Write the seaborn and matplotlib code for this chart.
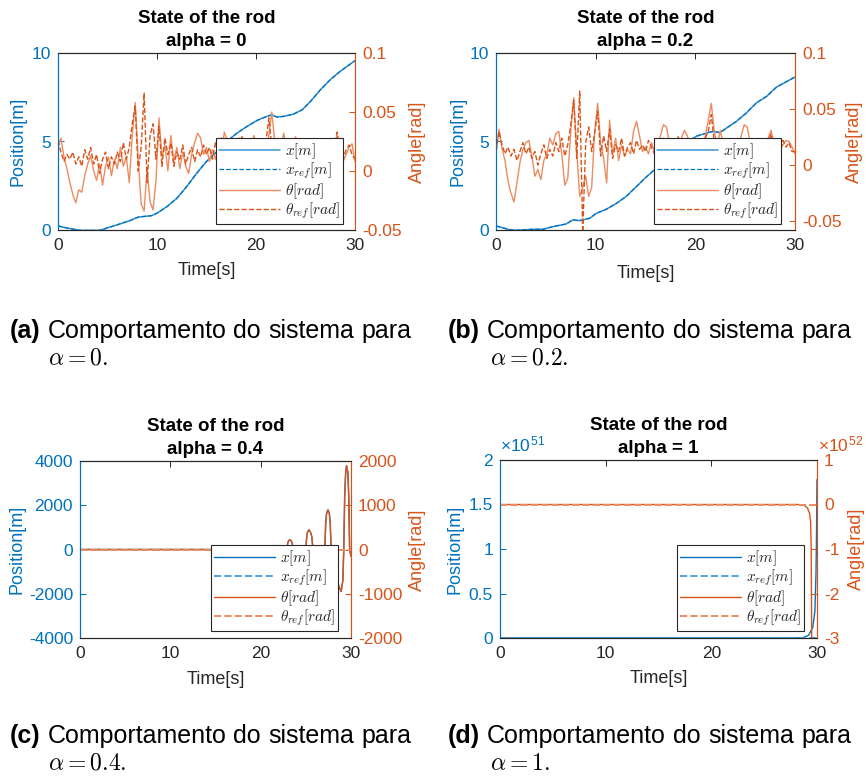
import numpy as np
import matplotlib
matplotlib.use("Agg")
import matplotlib.pyplot as plt
import seaborn as sns
from matplotlib.ticker import FuncFormatter

# ---------------- data ----------------
t_samples = np.linspace(0, 30, 101)   # sample instants of the noisy angle traces

# (a) alpha = 0
t_x_a = [0, 0.84, 2.2, 4.2, 5.9, 7.26, 8.1, 9.46, 9.97, 11.0, 12.0, 13.0, 14.0, 15.0,
         16.05, 17.06, 18.07, 19.09, 20.1, 21.1, 21.6, 22.1, 22.8, 23.8, 24.66, 25.5,
         26.5, 27.5, 28.5, 30.0]
x_a = [0.23, 0.12, -0.02, -0.02, 0.28, 0.53, 0.73, 0.81, 0.94, 1.32, 1.79, 2.45, 3.2,
       3.87, 4.43, 5.0, 5.47, 5.85, 6.19, 6.42, 6.51, 6.38, 6.42, 6.55, 6.79, 7.26, 7.92,
       8.49, 8.96, 9.57]
theta_a = [0.020, 0.028, 0.012, 0.002, -0.010, -0.020, -0.027, -0.016, -0.018, -0.004,
           0.006, 0.013, 0.000, -0.008, 0.006, -0.012, 0.004, 0.012, -0.004, 0.010,
           0.002, 0.020, 0.004, 0.012, -0.010, 0.030, 0.058, 0.010, -0.028, -0.034,
           0.002, -0.026, -0.033, -0.008, 0.045, 0.012, 0.022, 0.000, 0.030, 0.008,
           0.020, 0.002, 0.016, 0.004, -0.002, 0.014, 0.024, 0.032, 0.028, 0.014,
           0.020, 0.008, 0.018, 0.010, 0.022, 0.014, 0.033, 0.026, 0.016, 0.022,
           0.012, 0.028, 0.018, 0.026, 0.014, 0.022, 0.030, 0.016, 0.020, 0.012,
           0.022, 0.030, 0.050, 0.024, 0.014, 0.020, 0.032, 0.018, 0.012, 0.022,
           0.029, 0.016, 0.010, 0.020, 0.014, 0.024, 0.012, 0.018, 0.026, 0.014,
           0.020, 0.010, 0.018, 0.024, 0.030, 0.016, 0.008, 0.014, 0.020, 0.023,
           0.008]
theta_ref_a = [0.026, 0.016, 0.008, 0.014, 0.010, 0.016, 0.006, 0.012, 0.004, 0.018,
               0.010, 0.020, 0.006, 0.014, -0.002, 0.010, 0.016, 0.002, 0.012, 0.006,
               0.016, 0.008, 0.024, 0.010, 0.020, 0.040, 0.055, 0.000, 0.020, 0.066,
               -0.010, 0.030, 0.040, 0.010, 0.038, 0.004, 0.028, 0.014, 0.024, 0.004,
               0.016, 0.010, 0.022, 0.006, 0.014, 0.020, 0.008, 0.018, 0.012, 0.022,
               0.014, 0.020, 0.010, 0.024, 0.016, 0.028, 0.012, 0.020, 0.026, 0.010,
               0.024, 0.016, 0.029, 0.012, 0.020, 0.026, 0.014, 0.022, 0.010, 0.018,
               0.024, 0.045, 0.020, 0.012, 0.022, 0.016, 0.026, 0.010, 0.020, 0.014,
               0.024, 0.018, 0.012, 0.022, 0.016, 0.026, 0.010, 0.020, 0.014, 0.024,
               0.016, 0.020, 0.012, 0.022, 0.033, 0.014, 0.010, 0.018, 0.022, 0.014,
               0.010]

# (b) alpha = 0.2
t_x_b = [0, 1.34, 2.0, 3.7, 4.7, 5.7, 7.04, 7.7, 8.4, 9.39, 10.06, 11.06, 12.07, 13.07,
         14.08, 15.09, 16.09, 17.1, 18.1, 19.1, 20.1, 21.1, 21.8, 22.46, 23.1, 24.1, 25.1,
         26.1, 27.15, 28.16, 30.0]
x_b = [0.23, 0.02, -0.02, 0.04, 0.04, 0.19, 0.34, 0.57, 0.53, 0.66, 0.94, 1.17, 1.5, 1.9,
       2.45, 3.0, 3.5, 4.06, 4.5, 4.9, 5.3, 5.47, 5.57, 5.5, 5.75, 6.13, 6.6, 7.17, 7.55,
       8.08, 8.64]
theta_b = [0.010, 0.032, 0.015, 0.004, -0.014, -0.025, -0.033, -0.016, 0.002, 0.014,
           0.020, 0.022, 0.008, -0.010, -0.004, -0.013, 0.004, 0.010, 0.024, 0.018,
           0.028, 0.030, 0.010, -0.018, -0.012, 0.030, 0.060, 0.012, -0.028, -0.020,
           -0.010, -0.028, -0.020, 0.030, 0.055, 0.020, 0.006, -0.016, 0.040, 0.010,
           0.024, 0.004, 0.018, 0.008, 0.014, 0.010, 0.030, 0.039, 0.026, 0.012,
           0.016, 0.010, 0.020, 0.012, 0.018, 0.026, 0.036, 0.034, 0.020, 0.014,
           0.020, 0.010, 0.024, 0.031, 0.026, 0.014, 0.020, 0.012, 0.018, 0.014,
           0.026, 0.040, 0.055, 0.030, 0.016, 0.031, 0.018, 0.012, 0.020, 0.014,
           0.022, 0.016, 0.026, 0.036, 0.034, 0.020, 0.012, 0.018, 0.010, 0.020,
           0.014, 0.024, 0.031, 0.018, 0.010, 0.014, 0.018, 0.022, 0.021, 0.016,
           0.010]
theta_ref_b = [0.012, 0.030, 0.018, 0.010, 0.016, 0.008, 0.014, 0.004, 0.012, 0.020,
               0.010, 0.016, 0.006, 0.012, 0.000, 0.010, 0.018, 0.006, 0.014, 0.008,
               0.020, 0.012, 0.024, 0.008, 0.018, 0.036, 0.058, 0.006, 0.066, -0.060,
               0.020, 0.034, 0.012, 0.028, 0.048, 0.008, 0.026, 0.012, 0.032, 0.006,
               0.018, 0.012, 0.024, 0.008, 0.016, 0.020, 0.010, 0.022, 0.014, 0.018,
               0.012, 0.022, 0.016, 0.010, 0.020, 0.014, 0.024, 0.018, 0.012, 0.022,
               0.016, 0.026, 0.014, 0.020, 0.012, 0.022, 0.018, 0.010, 0.020, 0.016,
               0.024, 0.030, 0.045, 0.020, 0.014, -0.050, 0.020, 0.012, 0.022, 0.016,
               0.020, 0.012, 0.024, 0.018, 0.014, 0.022, 0.010, 0.020, 0.016, 0.024,
               0.014, 0.020, 0.028, 0.012, 0.018, 0.014, 0.022, 0.016, 0.020, 0.012,
               0.012]

# (c) alpha = 0.4
t_c = [0, 20.8, 21.0, 21.2, 21.4, 21.6, 21.8, 22.2, 22.6, 22.9,
       23.0, 23.1, 23.25, 23.4, 23.5, 23.6, 24.0, 24.5, 24.85, 25.0,
       25.1, 25.2, 25.35, 25.5, 25.65, 25.8, 26.2, 26.6, 26.95, 27.1,
       27.2, 27.3, 27.45, 27.6, 27.7, 27.8, 28.2, 28.6, 28.9, 29.1,
       29.2, 29.3, 29.4, 29.5, 29.65, 29.75, 29.85, 30.0]
theta_c = [0, 0, 0, 70, 90, 60, 0, -100, -120, 0,
           150, 200, 218, 190, 130, 0, -200, -260, -180, 0,
           300, 400, 444, 400, 300, 0, -380, -500, -350, 0,
           600, 820, 895, 820, 600, 0, -500, -800, -950, -700,
           0, 1200, 1700, 1895, 1750, 1200, 0, -150]
x_c = [0, 0, 0, 140, 180, 120, 0, -200, -240, 0,
       300, 400, 436, 380, 260, 0, -400, -520, -360, 0,
       600, 800, 888, 800, 600, 0, -760, -1000, -700, 0,
       1200, 1640, 1790, 1640, 1200, 0, -1000, -1600, -1900, -1400,
       0, 2400, 3400, 3790, 3500, 2400, 0, -300]
t_ref_c = [0, 30]
x_ref_c = [0, 0]
theta_ref_c = [0, 0]

# (d) alpha = 1   (x in units of 1e51 m, theta in units of 1e52 rad)
t_x_d = [0, 28.0, 28.7, 29.2, 29.6, 29.8, 29.9, 29.95, 30.0]
x_d = [0, 0, 0.005, 0.03, 0.12, 0.3, 0.7, 1.1, 1.78]
t_theta_d = [0, 28.2, 28.8, 29.1, 29.3, 29.4, 29.45, 29.5, 29.55]
theta_d = [0, 0, -0.02, -0.08, -0.2, -0.4, -1.0, -3.0, -3.5]
t_ref_d = [0, 30]
x_ref_d = [0, 0]
theta_ref_d = [0, 0]

titles = ["State of the rod\nalpha = 0", "State of the rod\nalpha = 0.2",
          "State of the rod\nalpha = 0.4", "State of the rod\nalpha = 1"]
legend_labels = [r"$x[m]$", r"$x_{ref}[m]$", r"$\theta[rad]$", r"$\theta_{ref}[rad]$"]
caption_words = ["Comportamento", "do", "sistema", "para"]
caption_alpha = [r"$\alpha = 0.$", r"$\alpha = 0.2.$", r"$\alpha = 0.4.$", r"$\alpha = 1.$"]

# ---------------- style ----------------
sns.set_theme(style="white")
plt.rcParams["font.family"] = ["Liberation Sans", "DejaVu Sans"]
plt.rcParams["mathtext.fontset"] = "cm"
plt.rcParams["axes.unicode_minus"] = False

BLUE = "#0072BD"
BLUE_L = "#4FA3DC"
ORANGE = "#D95319"
ORANGE_L = "#EC8C62"
DARK = "#262626"
W, H = 866, 778
TICK_FS = 12.5
LAB_FS = 13

fig = plt.figure(figsize=(W / 100, H / 100), dpi=100)
fmt = FuncFormatter(lambda v, p: f"{v:g}")


def draw_panel(box, title, left_series, right_series, ylim_l, yt_l, ylim_r, yt_r,
               leg_xy, lab_xl, lab_xr, lab_y):
    l, t, r, b = box
    ax = fig.add_axes([l / W, 1 - b / H, (r - l) / W, (b - t) / H])
    ax2 = ax.twinx()
    handles = []
    for tx, vy, col, ls, lw in left_series:
        sns.lineplot(x=tx, y=vy, ax=ax, color=col, linestyle=ls, linewidth=lw,
                     estimator=None, sort=False)
        handles.append(ax.get_lines()[-1])
    for tx, vy, col, ls, lw in right_series:
        sns.lineplot(x=tx, y=vy, ax=ax2, color=col, linestyle=ls, linewidth=lw,
                     estimator=None, sort=False)
        handles.append(ax2.get_lines()[-1])
    ax.set_xlim(0, 30)
    ax.set_ylim(*ylim_l)
    ax2.set_ylim(*ylim_r)
    ax.set_xticks([0, 10, 20, 30])
    ax.set_yticks(yt_l)
    ax2.set_yticks(yt_r)
    for a in (ax.xaxis, ax.yaxis, ax2.yaxis):
        a.set_major_formatter(fmt)
    ax.tick_params(axis="x", direction="in", length=4, width=0.7, top=True,
                   labelsize=TICK_FS, colors=DARK, pad=6)
    ax.tick_params(axis="y", direction="in", length=4, width=0.7, right=False,
                   labelsize=TICK_FS, colors=BLUE, pad=5)
    ax2.tick_params(axis="y", direction="in", length=4, width=0.7, left=False,
                    labelsize=TICK_FS, colors=ORANGE, pad=5)
    for a in (ax, ax2):
        for s in ("top", "bottom"):
            a.spines[s].set_color(DARK)
            a.spines[s].set_linewidth(0.8)
        a.spines["left"].set_color(BLUE)
        a.spines["right"].set_color(ORANGE)
        a.spines["left"].set_linewidth(0.8)
        a.spines["right"].set_linewidth(0.8)
    ax.set_title(title, fontsize=13.5, fontweight="bold", pad=5, linespacing=1.45,
                 color="black")
    ax.set_xlabel("Time[s]", fontsize=LAB_FS, color=DARK)
    ax.set_ylabel("Position[m]", fontsize=LAB_FS, color=BLUE)
    ax2.set_ylabel("Angle[rad]", fontsize=LAB_FS, color=ORANGE)
    ax.xaxis.set_label_coords(0.5, lab_y)
    ax.yaxis.set_label_coords(lab_xl, 0.5)
    ax2.yaxis.set_label_coords(lab_xr, 0.5)
    for lab in (ax.xaxis.label, ax.yaxis.label, ax2.yaxis.label):
        lab.set_rotation_mode("default")
        lab.set_verticalalignment("center")
        lab.set_horizontalalignment("center")
    leg = ax2.legend(handles, legend_labels, loc="upper left",
                     bbox_to_anchor=(leg_xy[0] / W, 1 - leg_xy[1] / H),
                     bbox_transform=fig.transFigure, borderaxespad=0, frameon=True,
                     fancybox=False, framealpha=1, edgecolor=DARK, fontsize=11,
                     handlelength=4.0, handletextpad=0.3, labelspacing=0.0,
                     borderpad=0.2)
    leg.get_frame().set_linewidth(0.8)
    return ax, ax2


# (a)
draw_panel((58, 53, 355, 230), titles[0],
           [(t_x_a, x_a, "#3A93D5", "-", 1.1), (t_x_a, x_a, BLUE, "--", 0.9)],
           [(t_samples, theta_a, ORANGE_L, "-", 1.0), (t_samples, theta_ref_a, ORANGE, "--", 1.0)],
           (0, 10), [0, 5, 10], (-0.05, 0.1), [-0.05, 0, 0.05, 0.1],
           (216, 138), -0.135, 1.212, -0.226)
# (b)
draw_panel((496, 53, 795, 230), titles[1],
           [(t_x_b, x_b, "#3A93D5", "-", 1.1), (t_x_b, x_b, BLUE, "--", 0.9)],
           [(t_samples, theta_b, ORANGE_L, "-", 1.0), (t_samples, theta_ref_b, ORANGE, "--", 1.0)],
           (0, 10), [0, 5, 10], (-0.058, 0.1), [-0.05, 0, 0.05, 0.1],
           (654, 138), -0.127, 1.2, -0.243)
# (c)
draw_panel((80, 461, 351, 638), titles[2],
           [(t_c, x_c, BLUE, "-", 1.0), (t_ref_c, x_ref_c, BLUE_L, "--", 1.4)],
           [(t_c, theta_c, ORANGE, "-", 1.0), (t_ref_c, theta_ref_c, ORANGE_L, "--", 1.4)],
           (-4000, 4000), [-4000, -2000, 0, 2000, 4000], (-2000, 2000),
           [-2000, -1000, 0, 1000, 2000],
           (211, 545), -0.232, 1.247, -0.237)
# (d)
draw_panel((500, 460, 817, 638), titles[3],
           [(t_x_d, x_d, BLUE, "-", 1.0), (t_ref_d, x_ref_d, BLUE_L, "--", 1.4)],
           [(t_theta_d, theta_d, ORANGE, "-", 1.0), (t_ref_d, theta_ref_d, ORANGE_L, "--", 1.4)],
           (0, 2), [0, 0.5, 1, 1.5, 2], (-3, 1), [-3, -2, -1, 0, 1],
           (677, 545), -0.142, 1.123, -0.225)

# exponent labels of panel (d)
fig.text(500 / W, 1 - 452 / H, "×10$^{\\mathregular{51}}$", fontsize=TICK_FS, color=BLUE,
         ha="left", va="baseline")
fig.text(818 / W, 1 - 452 / H, "×10$^{\\mathregular{52}}$", fontsize=TICK_FS, color=ORANGE,
         ha="left", va="baseline")

# ---------------- captions ----------------
CAP_FS = 18
CAP_FAMILY = ["Liberation Sans Narrow", "Liberation Sans"]
cap_specs = [("a", 10, 411, 338, 48, 365), ("b", 448, 851, 338, 490, 365),
             ("c", 10, 411, 743, 48, 770), ("d", 448, 851, 743, 490, 770)]
cap_rows = []
for (letter, xl, xr, yb, xa, ya), alpha_txt in zip(cap_specs, caption_alpha):
    row = [fig.text(xl / W, 1 - yb / H, f"({letter})", fontsize=CAP_FS, family=CAP_FAMILY,
                    fontweight="bold", ha="left", va="baseline", color="black")]
    for w in caption_words:
        row.append(fig.text(xl / W, 1 - yb / H, w, fontsize=CAP_FS, family=CAP_FAMILY,
                            ha="left", va="baseline", color="black"))
    fig.text(xa / W, 1 - ya / H, alpha_txt, fontsize=17, ha="left",
             va="baseline", color="black")
    cap_rows.append((row, xl, xr))

fig.canvas.draw()
renderer = fig.canvas.get_renderer()
for row, xl, xr in cap_rows:
    widths = [tx.get_window_extent(renderer).width for tx in row]
    gap = (xr - xl - sum(widths)) / (len(row) - 1)
    x = xl
    for tx, wd in zip(row, widths):
        tx.set_x(x / W)
        x += wd + gap

fig.savefig("out.png", dpi=100, facecolor="white")
